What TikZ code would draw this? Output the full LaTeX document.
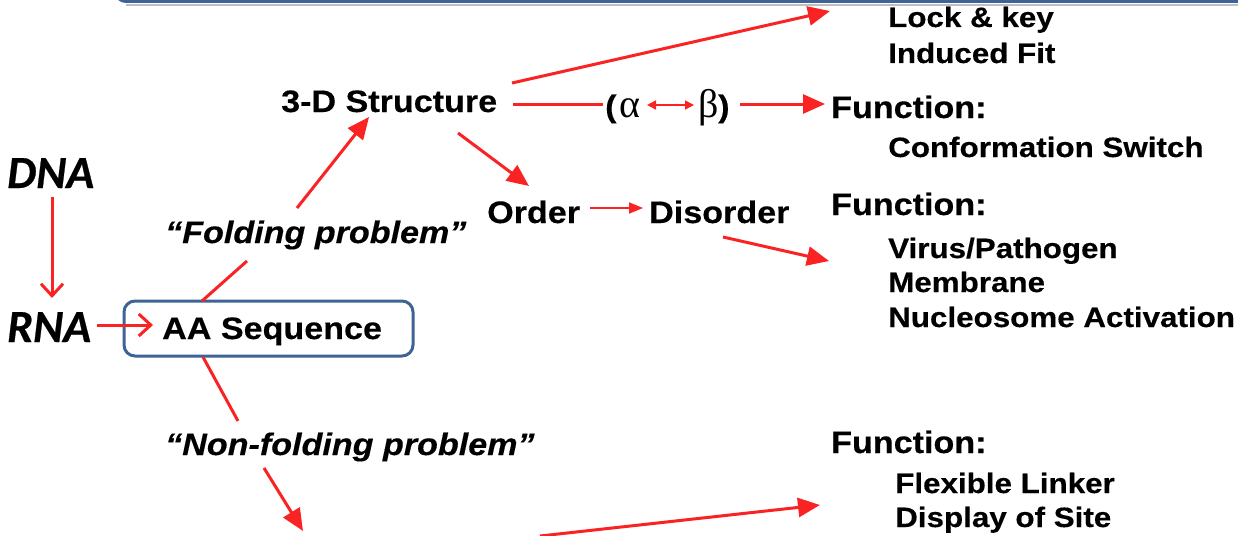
\documentclass[tikz,border=0pt]{standalone}
\usepackage{fontspec}
\usetikzlibrary{arrows.meta,calc}
\newfontfamily\hvA[FakeStretch=1.1,FakeBold=0.35]{Liberation Sans}
\newfontfamily\hvB[FakeStretch=1.12,FakeBold=0.35]{Liberation Sans}
\newfontfamily\grkfont{Liberation Serif}
\newfontfamily\carl[FakeBold=0.5]{Carlito}
\definecolor{redA}{RGB}{250,35,35}
\definecolor{boxblue}{RGB}{62,100,150}
\begin{document}
\begin{tikzpicture}[x=1pt,y=-1pt,
  main/.style={inner sep=0pt, anchor=base west, font=\hvA\bfseries\fontsize{31}{36}\selectfont},
  sub/.style={inner sep=0pt, anchor=base west, font=\hvB\bfseries\fontsize{28}{32}\selectfont},
  ital/.style={inner sep=0pt, anchor=base west, font=\hvA\bfseries\itshape\fontsize{31}{36}\selectfont},
  dnalbl/.style={inner sep=0pt, anchor=base west, font=\carl\bfseries\itshape\fontsize{46}{50}\selectfont},
  greek/.style={inner sep=0pt, anchor=base west, font=\grkfont\fontsize{40}{44}\selectfont},
  redline/.style={draw=redA, line width=3pt},
  redarrow/.style={draw=redA, line width=3pt, -{Triangle[length=22pt,width=19pt]}},
  thinarrow/.style={draw=redA, line width=1.8pt, -{Triangle[length=14pt,width=11pt]}},
  barbarrow/.style={draw=redA, line width=3pt, -{Straight Barb[length=12pt,width=22pt]}},
  dblarrow/.style={draw=redA, line width=1.5pt, {Triangle[length=9pt,width=9pt]}-{Triangle[length=9pt,width=9pt]}},
  aabox/.style={draw=boxblue, line width=3pt, rounded corners=11pt}
]
\useasboundingbox (0,0) rectangle (1238,535);
% top frame edge
\draw[black!25, line width=2pt] (126,5) -- (1245,5);
\draw[boxblue, line width=3pt] (116,-8) to[out=-90,in=180] (126,1.5) -- (1245,1.5);

% nodes
\node[dnalbl] (dna) at (7,188) {DNA};
\node[dnalbl] (rna) at (7,342) {RNA};
\node[aabox, minimum width=289pt, minimum height=55pt] (box) at (268.5,328.5) {};
\node[main] (aa) at (162,339) {AA Sequence};
\node[main] (s3d) at (281,112) {3-D Structure};
\node[ital] (fold) at (165,243) {“Folding problem”};
\node[ital] (nfold) at (165,455) {“Non-folding problem”};
\node[main] (ord) at (487,223) {Order};
\node[main] (dis) at (649,223) {Disorder};
\node[main] (lp) at (605,117) {(};
\node[greek] (al) at (619,117) {α};
\node[greek] (be) at (698,117) {β};
\node[main] (rp) at (718,117) {)};
\node[sub] (lock) at (888,27) {Lock \& key};
\node[sub] (ind) at (888,63) {Induced Fit};
\node[main] (f1) at (831,118) {Function:};
\node[sub] (conf) at (888,157) {Conformation Switch};
\node[main] (f2) at (831,215) {Function:};
\node[sub] (vir) at (888,258) {Virus/Pathogen};
\node[sub] (mem) at (888,292) {Membrane};
\node[sub] (nuc) at (888,327) {Nucleosome Activation};
\node[main] (f3) at (831,453) {Function:};
\node[sub] (flex) at (895,493) {Flexible Linker};
\node[sub] (disp) at (895,527) {Display of Site};

% connector end points
\coordinate (dnaS) at (52,197);
\coordinate (rnaT) at (52,298);
\coordinate (rnaS) at (97,325);
\coordinate (aaT) at (153,325);
\coordinate (fA) at (202,301);
\coordinate (fB) at (247,261);
\coordinate (fC) at (297,208);
\coordinate (fT) at (369,117);
\coordinate (nA) at (203,357);
\coordinate (nB) at (238,421);
\coordinate (nC) at (264,468);
\coordinate (nT) at (303,531);
\coordinate (bS) at (540,536);
\coordinate (bT) at (820,505);
\coordinate (lS) at (512,83);
\coordinate (lT) at (830,11);
\coordinate (hS) at (513,104);
\coordinate (hE) at (603,104);
\coordinate (aS) at (740,104);
\coordinate (aT) at (825,104);
\coordinate (abS) at (647,105);
\coordinate (abT) at (694,105);
\coordinate (oS) at (458,133);
\coordinate (oT) at (529,186);
\coordinate (odS) at (590,208);
\coordinate (odT) at (643,208);
\coordinate (dS) at (723,237);
\coordinate (dT) at (829,261);

% connectors
\draw[barbarrow] (dnaS) -- (rnaT);
\draw[barbarrow] (rnaS) -- (aaT);
\draw[redline] (fA) -- (fB);
\draw[redarrow] (fC) -- (fT);
\draw[redline] (nA) -- (nB);
\draw[redarrow] (nC) -- (nT);
\draw[redarrow] (bS) -- (bT);
\draw[redarrow] (lS) -- (lT);
\draw[redline] (hS) -- (hE);
\draw[dblarrow] (abS) -- (abT);
\draw[redarrow] (aS) -- (aT);
\draw[redarrow] (oS) -- (oT);
\draw[thinarrow] (odS) -- (odT);
\draw[redarrow] (dS) -- (dT);
\end{tikzpicture}
\end{document}
